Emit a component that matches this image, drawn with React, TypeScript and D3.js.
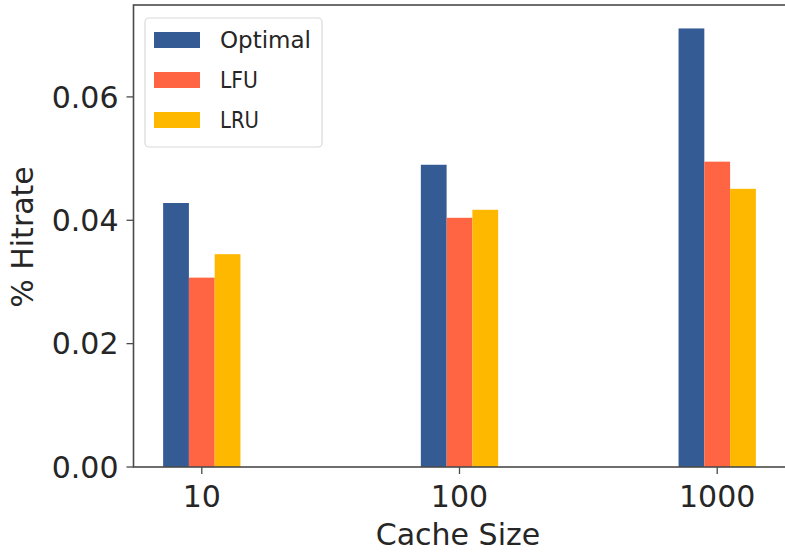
import React, { useEffect, useRef } from 'react';
import * as d3 from 'd3';

const categories = ['10', '100', '1000'];
const seriesNames = ['Optimal', 'LFU', 'LRU'];
const optimal = [0.0428, 0.0490, 0.0711];
const lfu = [0.0307, 0.0404, 0.0495];
const lru = [0.0345, 0.0417, 0.0451];
const yTicks = [0, 0.02, 0.04, 0.06];
const colors = ['#355B95', '#FF6542', '#FFB800'];

const W = 785;
const H = 557;
const FONT = '"DejaVu Sans", sans-serif';

const App: React.FC = () => {
  const svgRef = useRef<SVGSVGElement>(null);

  useEffect(() => {
    const svg = d3.select(svgRef.current);
    svg.selectAll('*').remove();

    const left = 133.5, right = 785.5, top = 5, bottom = 467;
    const barW = 0.1;

    // matplotlib style: categories at 0,1,2 with 5% margins
    const x = d3.scaleLinear().domain([-0.265, 2.265]).range([left, right]);
    const y = d3.scaleLinear().domain([0, 0.0749]).range([bottom, top]);

    const series = [optimal, lfu, lru];

    const bars = svg.append('g');
    series.forEach((vals, si) => {
      bars.selectAll(null)
        .data(vals)
        .join('rect')
          .attr('x', (_, i) => x(i + (si - 1) * barW - barW / 2))
          .attr('width', x(barW) - x(0))
          .attr('y', d => y(d))
          .attr('height', d => y(0) - y(d))
          .attr('fill', colors[si]);
    });

    // spines (right one sits just past the picture edge)
    const axisColor = '#4a4a4a';
    svg.append('rect')
      .attr('x', left).attr('y', top)
      .attr('width', right - left + 0.8).attr('height', bottom - top)
      .attr('fill', 'none').attr('stroke', axisColor).attr('stroke-width', 1.6);

    // y ticks
    const yg = svg.append('g');
    yg.selectAll('line')
      .data(yTicks)
      .join('line')
        .attr('x1', left - 7).attr('x2', left)
        .attr('y1', d => y(d)).attr('y2', d => y(d))
        .attr('stroke', axisColor).attr('stroke-width', 1.3);
    yg.selectAll('text')
      .data(yTicks)
      .join('text')
        .attr('x', left - 15)
        .attr('y', d => y(d))
        .attr('dy', '0.36em')
        .attr('text-anchor', 'end')
        .attr('font-family', FONT)
        .attr('font-size', 30)
        .attr('fill', '#262626')
        .text(d => d3.format('.2f')(d));

    // x ticks
    const xg = svg.append('g');
    xg.selectAll('line')
      .data(categories)
      .join('line')
        .attr('x1', (_, i) => x(i)).attr('x2', (_, i) => x(i))
        .attr('y1', bottom).attr('y2', bottom + 7)
        .attr('stroke', axisColor).attr('stroke-width', 1.3);
    xg.selectAll('text')
      .data(categories)
      .join('text')
        .attr('x', (_, i) => x(i))
        .attr('y', 507)
        .attr('text-anchor', 'middle')
        .attr('font-family', FONT)
        .attr('font-size', 30)
        .attr('fill', '#262626')
        .text(d => d);

    // axis labels
    svg.append('text')
      .attr('x', 458)
      .attr('y', 545)
      .attr('text-anchor', 'middle')
      .attr('font-family', FONT)
      .attr('font-size', 30)
      .attr('fill', '#262626')
      .text('Cache Size');

    svg.append('text')
      .attr('transform', `translate(33,${(top + bottom) / 2 + 1}) rotate(-90)`)
      .attr('text-anchor', 'middle')
      .attr('font-family', FONT)
      .attr('font-size', 30)
      .attr('fill', '#262626')
      .text('% Hitrate');

    // legend
    const lg = svg.append('g');
    lg.append('rect')
      .attr('x', 145).attr('y', 18)
      .attr('width', 177).attr('height', 129)
      .attr('rx', 4)
      .attr('fill', 'white')
      .attr('stroke', '#d9d9d9')
      .attr('stroke-width', 1.2);
    const rowY = [40, 80, 120];
    seriesNames.forEach((name, i) => {
      lg.append('rect')
        .attr('x', 154).attr('y', rowY[i] - 8)
        .attr('width', 46).attr('height', 16)
        .attr('fill', colors[i]);
      const t = lg.append('text')
        .attr('x', 220)
        .attr('y', rowY[i])
        .attr('dy', '0.36em')
        .attr('font-family', FONT)
        .attr('font-size', 23)
        .attr('fill', '#262626')
        .text(name);
      const len = [91, 38, 39][i];
      t.attr('textLength', len).attr('lengthAdjust', 'spacingAndGlyphs');
    });
  }, []);

  return (
    <div style={{ position: 'absolute', left: 0, top: 0 }}>
      <svg ref={svgRef} width={W} height={H} viewBox={`0 0 ${W} ${H}`} style={{ display: 'block', background: 'white' }} />
    </div>
  );
};

export default App;
